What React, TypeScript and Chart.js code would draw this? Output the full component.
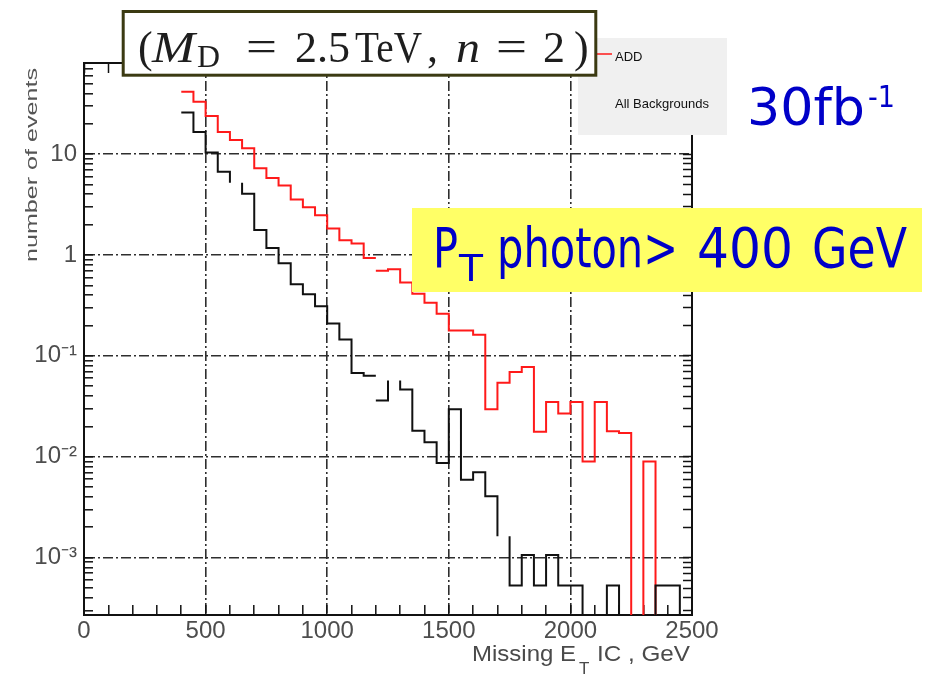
import React, { useEffect, useRef } from "react";
import { Chart, registerables } from "chart.js";

Chart.register(...registerables);

// ---- data ----
const binLowEdges = [
  400, 450, 500, 550, 600, 650, 700, 750, 800, 850, 900, 950, 1000, 1050,
  1100, 1150, 1200, 1250, 1300, 1350, 1400, 1450, 1500, 1550, 1600, 1650,
  1700, 1750, 1800, 1850, 1900, 1950, 2000, 2050, 2100, 2150, 2200, 2250,
  2300, 2350, 2400, 2450,
];
const binWidth = 50;

const addEvents = [
  41.4, 33.0, 23.8, 16.6, 13.8, 11.4, 7.24, 5.78, 4.89, 3.54, 2.98, 2.47,
  1.83, 1.4, 1.3, 0.933, 0.697, 0.724, 0.533, 0.414, 0.337, 0.261, 0.178,
  0.178, 0.162, 0.0296, 0.054, 0.0692, 0.0775, 0.0177, 0.0348, 0.0268,
  0.0348, 0.00897, 0.0348, 0.0179, 0.0172, 0, 0.00897, 0, 0, 0,
];

const backgroundEvents = [
  25.9, 16.6, 10.4, 6.7, 5.2, 4.05, 1.77, 1.17, 0.826, 0.513, 0.407, 0.311,
  0.209, 0.145, 0.0676, 0.0637, 0.0362, 0.0569, 0.0464, 0.0181, 0.0139,
  0.00865, 0.0296, 0.00593, 0.00703, 0.00405, 0.00163, 0.000528, 0.00106,
  0.000528, 0.00106, 0.000528, 0.000528, 0, 0, 0.000528, 0, 0, 0, 0.000528,
  0.000528, 0,
];

// bins whose horizontal segment is missing in the original drawing
const backgroundUndrawnBins = [600, 1250, 1700];
// bin edges where the original drawing has no vertical join
const addBreakEdges = [1200];
const backgroundBreakEdges = [1200];

const xTickValues = [0, 500, 1000, 1500, 2000, 2500];
const xTickLabels = ["0", "500", "1000", "1500", "2000", "2500"];
const yTickValues = [0.001, 0.01, 0.1, 1, 10];
const yTickLabels = ["10⁻³", "10⁻²", "10⁻¹", "1", "10"];

const xMin = 0;
const xMax = 2500;
const yMin = 2.7e-4;
const yMax = 80;

// ---- helpers ----
const FLOOR = 1e-6; // empty bins are drawn down past the axis (clipped)

function stepPoints(values: number[], undrawn: number[], breaks: number[]) {
  const pts: { x: number; y: number | null }[] = [];
  values.forEach((v, i) => {
    const lo = binLowEdges[i];
    const hi = lo + binWidth;
    const y = v > 0 ? v : FLOOR;
    if (i > 0 && breaks.includes(lo)) pts.push({ x: lo, y: null });
    if (undrawn.includes(lo)) {
      pts.push({ x: lo, y });
      pts.push({ x: lo, y: null });
      pts.push({ x: hi, y });
    } else {
      pts.push({ x: lo, y });
      pts.push({ x: hi, y });
    }
  });
  return pts;
}

function logTickList() {
  const t: { value: number }[] = [];
  for (let k = -4; k <= 1; k++) {
    for (let m = 1; m <= 9; m++) {
      const v = m * Math.pow(10, k);
      if (v >= yMin * 0.999 && v <= yMax * 1.001) t.push({ value: v });
    }
  }
  return t;
}

function xTickList() {
  const t: { value: number }[] = [];
  for (let v = xMin; v <= xMax; v += 100) t.push({ value: v });
  return t;
}

const nearLog = (a: number, b: number) =>
  Math.abs(Math.log10(a) - Math.log10(b)) < 1e-6;
const yMajorIndex = (v: number) => yTickValues.findIndex((t) => nearLog(v, t));
const isYGrid = (v: number | undefined) =>
  v !== undefined && yMajorIndex(v) >= 0;
const isXGrid = (v: number | undefined) =>
  v !== undefined && v % 500 === 0 && v > xMin && v < xMax;

const GRID_COLOR = "#2e2e2e";
const GRID_DASH = [10, 3, 2, 3];
const CLEAR = "rgba(0,0,0,0)";
const TICK_FONT = { family: "'Liberation Sans', Arial, sans-serif", size: 24 };
const TICK_COLOR = "#4d4d4d";

export default function App() {
  const canvasRef = useRef<HTMLCanvasElement>(null);

  useEffect(() => {
    const canvas = canvasRef.current;
    if (!canvas) return;
    const chart = new Chart(canvas, {
      type: "line",
      data: {
        datasets: [
          {
            label: "All Backgrounds",
            data: stepPoints(backgroundEvents, backgroundUndrawnBins, backgroundBreakEdges),
            borderColor: "#111111",
            borderWidth: 2,
            pointRadius: 0,
            tension: 0,
            fill: false,
            spanGaps: false,
          },
          {
            label: "ADD",
            data: stepPoints(addEvents, [], addBreakEdges),
            borderColor: "#ff1a1a",
            borderWidth: 2,
            pointRadius: 0,
            tension: 0,
            fill: false,
            spanGaps: false,
          },
        ],
      },
      options: {
        responsive: false,
        animation: false,
        devicePixelRatio: 1,
        layout: { padding: { left: 8, right: 236, top: 63, bottom: 23 } },
        plugins: { legend: { display: false }, tooltip: { enabled: false } },
        scales: {
          x: {
            type: "linear",
            position: "bottom",
            min: xMin,
            max: xMax,
            afterBuildTicks: (s: any) => {
              s.ticks = xTickList();
            },
            afterFit: (s: any) => {
              s.height = 40;
            },
            ticks: {
              autoSkip: false,
              maxRotation: 0,
              padding: 12,
              font: TICK_FONT,
              color: TICK_COLOR,
              callback: (value: any) => {
                const i = xTickValues.indexOf(Number(value));
                return i >= 0 ? xTickLabels[i] : "";
              },
            },
            grid: {
              color: (c: any) => (isXGrid(c.tick?.value) ? GRID_COLOR : CLEAR),
              lineWidth: 1.6,
              tickLength: -10,
              tickColor: "#111",
              tickWidth: 1.5,
            },
            border: {
              display: true,
              color: "#111",
              width: 2,
              dash: (c: any) => (isXGrid(c.tick?.value) ? GRID_DASH : []),
            },
          },
          x2: {
            type: "linear",
            position: "top",
            min: xMin,
            max: xMax,
            afterBuildTicks: (s: any) => {
              s.ticks = xTickList();
            },
            afterFit: (s: any) => {
              s.height = 0;
            },
            ticks: { display: false, autoSkip: false },
            grid: {
              drawOnChartArea: false,
              tickLength: -10,
              tickColor: "#111",
              tickWidth: 1.5,
            },
            border: { display: true, color: "#111", width: 2 },
          },
          y: {
            type: "logarithmic",
            position: "left",
            min: yMin,
            max: yMax,
            afterBuildTicks: (s: any) => {
              s.ticks = logTickList();
            },
            afterFit: (s: any) => {
              s.width = 76;
            },
            ticks: {
              autoSkip: false,
              padding: 16,
              font: TICK_FONT,
              color: TICK_COLOR,
              callback: (value: any) => {
                const i = yMajorIndex(Number(value));
                return i >= 0 ? yTickLabels[i] : "";
              },
            },
            grid: {
              color: (c: any) => (isYGrid(c.tick?.value) ? GRID_COLOR : CLEAR),
              lineWidth: 1.6,
              tickLength: -9,
              tickColor: "#111",
              tickWidth: 1.5,
            },
            border: {
              display: true,
              color: "#111",
              width: 2,
              dash: (c: any) => (isYGrid(c.tick?.value) ? GRID_DASH : []),
            },
          },
          y2: {
            type: "logarithmic",
            position: "right",
            min: yMin,
            max: yMax,
            afterBuildTicks: (s: any) => {
              s.ticks = logTickList();
            },
            afterFit: (s: any) => {
              s.width = 0;
            },
            ticks: { display: false, autoSkip: false },
            grid: {
              drawOnChartArea: false,
              tickLength: -9,
              tickColor: "#111",
              tickWidth: 1.5,
            },
            border: { display: true, color: "#111", width: 2 },
          },
        },
      } as any,
    });
    return () => chart.destroy();
  }, []);

  const serif = "'Liberation Serif', 'DejaVu Serif', serif";
  const sans = "'Liberation Sans', Arial, sans-serif";
  const blueFont = "'DejaVu Sans', 'Noto Sans', sans-serif";
  const blue = "#0000c8";

  return (
    <div
      style={{
        position: "fixed",
        left: 0,
        top: 0,
        width: 928,
        height: 678,
        background: "#ffffff",
        overflow: "hidden",
      }}
    >
      <canvas
        ref={canvasRef}
        width={928}
        height={678}
        style={{ position: "absolute", left: 0, top: 0, width: 928, height: 678 }}
      />
      <svg
        width={928}
        height={678}
        style={{ position: "absolute", left: 0, top: 0, pointerEvents: "none" }}
      >
        {/* axis titles */}
        <text
          transform="translate(37,165) rotate(-90)"
          textAnchor="middle"
          fontFamily={sans}
          fontSize={17}
          fill="#555"
          textLength={194}
          lengthAdjust="spacingAndGlyphs"
        >
          number of events
        </text>
        <text x={472} y={661} fontFamily={sans} fontSize={22} fill="#4a4a4a" textLength={104} lengthAdjust="spacingAndGlyphs">
          Missing E
        </text>
        <text x={579} y={674} fontFamily={sans} fontSize={17} fill="#4a4a4a">
          T
        </text>
        <text x={597} y={661} fontFamily={sans} fontSize={22} fill="#4a4a4a" textLength={93} lengthAdjust="spacingAndGlyphs">
          IC , GeV
        </text>

        {/* legend */}
        <rect x={578} y={38} width={149} height={97} fill="#f0f0f0" />
        <line x1={597} y1={54} x2={612} y2={54} stroke="#ff1a1a" strokeWidth={1.5} />
        <text x={615} y={60.5} fontFamily={sans} fontSize={13} fill="#111">
          ADD
        </text>
        <text x={615} y={108} fontFamily={sans} fontSize={13} fill="#111">
          All Backgrounds
        </text>

        {/* title box */}
        <rect x={123.2} y={11.5} width={472.6} height={63.7} fill="#ffffff" stroke="#3b3a12" strokeWidth={3} />
        <text x={138} y={62} fontFamily={serif} fontSize={44} fill="#1e1e1e">(</text>
        <text x={152} y={62} fontFamily={serif} fontSize={44} fontStyle="italic" fill="#1e1e1e" textLength={43} lengthAdjust="spacingAndGlyphs">M</text>
        <text x={197} y={67} fontFamily={serif} fontSize={31} fill="#1e1e1e" textLength={23} lengthAdjust="spacingAndGlyphs">D</text>
        <text x={246} y={61} fontFamily={serif} fontSize={44} fill="#1e1e1e" textLength={31} lengthAdjust="spacingAndGlyphs">=</text>
        <text x={295} y={62} fontFamily={serif} fontSize={44} fill="#1e1e1e" textLength={55} lengthAdjust="spacingAndGlyphs">2.5</text>
        <text x={355} y={62} fontFamily={serif} fontSize={44} fill="#1e1e1e" textLength={67} lengthAdjust="spacingAndGlyphs">TeV</text>
        <text x={427} y={62} fontFamily={serif} fontSize={44} fill="#1e1e1e">,</text>
        <text x={456} y={62} fontFamily={serif} fontSize={44} fontStyle="italic" fill="#1e1e1e" textLength={24} lengthAdjust="spacingAndGlyphs">n</text>
        <text x={496} y={61} fontFamily={serif} fontSize={44} fill="#1e1e1e" textLength={31} lengthAdjust="spacingAndGlyphs">=</text>
        <text x={543} y={62} fontFamily={serif} fontSize={44} fill="#1e1e1e" textLength={22} lengthAdjust="spacingAndGlyphs">2</text>
        <text x={574} y={62} fontFamily={serif} fontSize={44} fill="#1e1e1e">)</text>

        {/* luminosity */}
        <text x={747} y={125} fontFamily={blueFont} fontSize={51} fill={blue} textLength={118} lengthAdjust="spacingAndGlyphs">
          30fb
        </text>
        <text x={868} y={107} fontFamily={blueFont} fontSize={30} fill={blue} textLength={27} lengthAdjust="spacingAndGlyphs">
          -1
        </text>

        {/* cut box */}
        <rect x={412} y={208} width={510} height={84} fill="#ffff66" />
        <text x={433} y={267} fontFamily={blueFont} fontSize={55} fill={blue} textLength={25} lengthAdjust="spacingAndGlyphs">P</text>
        <text x={459} y={281} fontFamily={blueFont} fontSize={38} fill={blue} textLength={24} lengthAdjust="spacingAndGlyphs">T</text>
        <text x={497} y={267} fontFamily={blueFont} fontSize={55} fill={blue} textLength={181} lengthAdjust="spacingAndGlyphs">photon&gt;</text>
        <text x={697} y={267} fontFamily={blueFont} fontSize={55} fill={blue} textLength={96} lengthAdjust="spacingAndGlyphs">400</text>
        <text x={812} y={267} fontFamily={blueFont} fontSize={55} fill={blue} textLength={95} lengthAdjust="spacingAndGlyphs">GeV</text>
      </svg>
    </div>
  );
}
